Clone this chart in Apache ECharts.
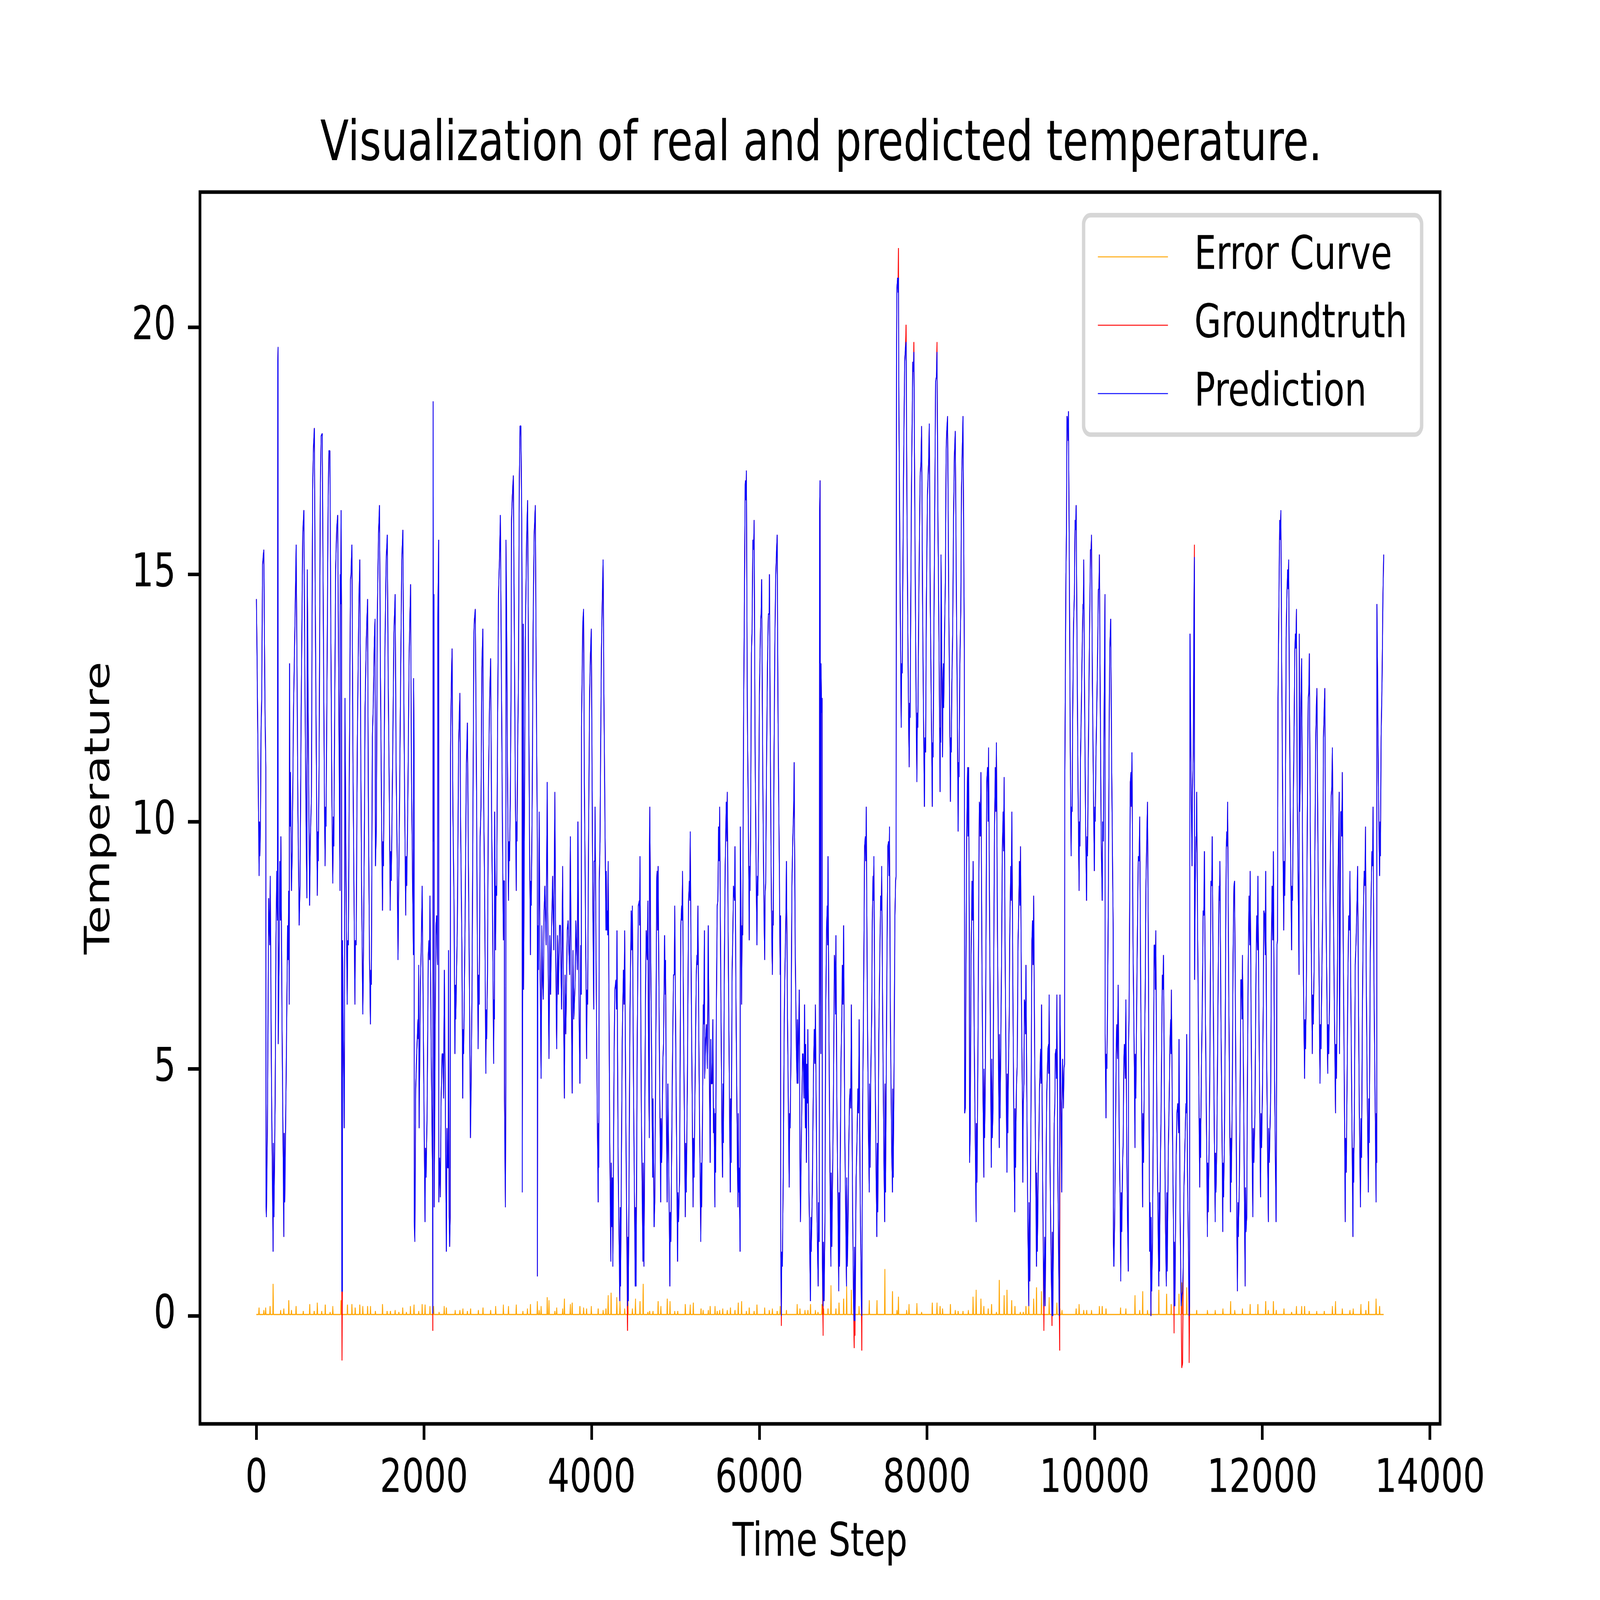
<!DOCTYPE html>
<html><head><meta charset="utf-8">
<script src="https://cdn.jsdelivr.net/npm/echarts@6/dist/echarts.min.js"></script>
<style>html,body{margin:0;padding:0;background:#fff;overflow:hidden;width:100vw;height:100vh;}#chart{width:6553px;height:4915px;transform-origin:0 0;}</style>
</head><body><div id="chart"></div>
<script>
const titleText = 'Visualization of real and predicted temperature.';
const xAxisName = 'Time Step';
const yAxisName = 'Temperature';
const seriesNames = ['Error Curve', 'Groundtruth', 'Prediction'];
const xTickValues = [0, 2000, 4000, 6000, 8000, 10000, 12000, 14000];
const yTickValues = [0, 5, 10, 15, 20];
const firstStep = 0;
const lastStep = 13449;

// Prediction curve: [time step, temperature]
const prediction = [
[1,14.5],[8,13.4],[33,8.9],[37,10.0],[42,9.3],[50,10.0],[55,11.7],[64,12.5],[74,15.2],[89,15.5],[103,12.3],[113,11.1],[116,2.2],[120,2.0],[132,3.8],[147,8.45],[159,7.5],[166,8.9],[181,4.6],[200,1.3],[203,3.5],[210,2.0],[224,4.3],[234,7.6],[244,9.0],[252,8.0],[256,19.3],[259,19.6],[261,5.5],[273,7.5],[280,9.2],[288,8.0],[293,9.7],[307,5.8],[328,1.6],[332,3.7],[339,2.3],[356,4.9],[373,7.9],[380,7.2],[386,8.6],[392,6.3],[396,13.2],[402,9.9],[407,11.0],[419,8.6],[428,9.4],[443,12.2],[467,14.7],[475,15.6],[487,12.6],[496,10.2],[511,7.9],[521,8.7],[535,12.3],[553,15.8],[567,16.3],[579,12.9],[593,10.0],[603,8.45],[608,15.1],[621,11.6],[635,8.3],[645,9.7],[657,10.5],[671,16.7],[681,17.55],[692,17.96],[702,14.7],[715,11.4],[727,8.5],[734,9.8],[739,9.2],[749,11.3],[763,16.7],[773,17.8],[786,17.85],[797,14.7],[812,10.5],[820,9.1],[825,10.3],[831,9.9],[841,12.3],[856,16.4],[865,17.5],[877,17.5],[890,13.5],[902,10.3],[912,8.75],[919,10.1],[924,9.5],[936,12.6],[946,15.1],[958,15.9],[970,16.2],[982,12.9],[998,8.6],[1001,15.0],[1006,14.4],[1011,16.3],[1016,14.4],[1019,0.5],[1026,0.5],[1028,7.6],[1037,5.8],[1048,3.8],[1052,5.5],[1057,12.5],[1069,9.1],[1084,6.3],[1089,7.6],[1098,7.5],[1108,10.7],[1123,14.9],[1129,15.0],[1140,15.6],[1152,11.4],[1164,8.7],[1176,6.3],[1181,7.6],[1191,7.5],[1205,11.7],[1223,14.4],[1234,15.3],[1244,12.0],[1254,9.0],[1270,6.1],[1278,7.3],[1291,10.3],[1297,12.3],[1312,13.7],[1327,14.5],[1336,10.5],[1350,7.2],[1361,5.9],[1366,7.0],[1372,6.7],
[1384,11.7],[1394,12.3],[1408,13.7],[1416,14.1],[1421,9.1],[1432,9.9],[1442,14.0],[1457,15.8],[1469,16.4],[1481,12.9],[1495,9.9],[1505,8.2],[1510,9.6],[1517,9.1],[1534,13.5],[1549,15.3],[1562,15.8],[1573,12.9],[1588,10.2],[1597,8.2],[1602,9.4],[1610,8.8],[1627,11.4],[1641,13.8],[1656,14.6],[1668,11.0],[1680,9.3],[1690,7.2],[1696,8.3],[1709,10.5],[1721,12.9],[1735,15.3],[1748,15.9],[1763,11.7],[1772,9.9],[1782,8.1],[1787,9.3],[1794,8.7],[1806,10.2],[1823,13.4],[1840,14.8],[1850,11.1],[1864,8.7],[1874,7.3],[1876,12.9],[1882,11.4],[1884,1.9],[1891,1.5],[1901,4.6],[1913,5.3],[1928,6.0],[1932,5.6],[1937,7.1],[1942,3.8],[1957,6.7],[1969,7.6],[1978,8.7],[1991,6.1],[2002,3.8],[2012,1.9],[2018,3.4],[2025,2.8],[2037,4.1],[2051,7.3],[2059,7.6],[2066,7.2],[2071,8.5],[2088,5.0],[2102,2.8],[2105,0.05],[2109,18.5],[2114,9.6],[2119,14.6],[2122,2.2],[2134,6.1],[2143,7.9],[2151,8.1],[2161,7.1],[2165,14.1],[2175,15.7],[2177,2.3],[2185,3.2],[2195,2.4],[2204,4.4],[2216,5.3],[2226,5.3],[2233,4.4],[2243,7.0],[2253,4.6],[2267,1.3],[2274,3.8],[2282,3.0],[2290,3.0],[2292,7.4],[2300,2.0],[2306,1.4],[2313,2.0],[2316,11.4],[2326,12.8],[2335,13.5],[2345,10.2],[2358,8.4],[2369,5.3],[2374,6.7],[2379,6.0],[2398,7.9],[2413,11.6],[2428,12.6],[2437,9.9],[2452,7.5],[2462,4.4],[2467,5.8],[2473,5.3],[2491,8.1],[2505,11.1],[2518,12.0],[2530,9.1],[2544,6.3],[2554,3.6],[2562,4.6],[2573,6.6],[2583,9.9],[2595,13.8],[2602,14.1],[2612,14.3],[2627,10.6],[2636,7.6],[2646,5.4],[2651,6.9],[2659,6.3],[2670,9.7],[2680,10.3],[2690,13.1],[2702,13.9],
[2709,11.0],[2724,8.4],[2738,4.9],[2743,6.2],[2748,5.6],[2758,7.0],[2768,10.6],[2782,12.4],[2795,13.3],[2806,10.2],[2818,8.1],[2831,5.1],[2835,6.4],[2841,6.0],[2843,10.2],[2855,7.4],[2858,8.7],[2867,8.5],[2879,12.2],[2889,14.6],[2902,15.4],[2911,16.2],[2923,13.1],[2937,9.6],[2947,7.6],[2952,8.8],[2959,8.8],[2960,4.4],[2971,2.2],[2976,4.7],[2978,15.7],[2986,14.1],[2996,11.1],[3008,8.4],[3015,9.6],[3020,9.2],[3030,10.5],[3039,12.8],[3044,16.1],[3054,16.6],[3066,17.0],[3078,13.8],[3090,10.5],[3101,8.6],[3104,10.0],[3110,9.6],[3117,11.4],[3127,12.9],[3137,16.9],[3146,18.0],[3156,18.0],[3166,16.1],[3170,14.4],[3172,2.5],[3185,14.0],[3188,6.6],[3195,9.1],[3209,13.7],[3224,15.7],[3236,16.5],[3248,12.9],[3258,9.9],[3270,7.3],[3274,8.8],[3280,8.3],[3292,10.7],[3302,14.0],[3314,15.8],[3328,16.4],[3340,12.6],[3352,9.6],[3353,0.8],[3358,7.9],[3365,7.0],[3374,10.2],[3384,7.2],[3397,4.8],[3406,7.9],[3413,6.9],[3423,6.4],[3433,8.2],[3442,8.7],[3457,7.5],[3470,10.8],[3476,8.2],[3491,5.2],[3501,7.7],[3510,6.5],[3522,7.8],[3535,8.9],[3549,7.4],[3561,10.6],[3572,7.2],[3583,5.4],[3593,7.7],[3603,6.5],[3617,7.9],[3627,7.9],[3641,6.2],[3654,9.1],[3661,7.0],[3675,4.4],[3683,6.9],[3692,5.7],[3709,7.8],[3719,8.0],[3737,6.9],[3746,9.7],[3758,6.4],[3768,4.5],[3777,7.4],[3787,6.0],[3802,6.7],[3811,8.0],[3829,7.0],[3836,10.0],[3850,6.2],[3860,4.7],[3870,7.5],[3876,6.5],[3879,11.9],[3894,14.0],[3904,14.3],[3913,10.8],[3928,7.8],[3940,5.2],[3945,6.6],[3952,6.3],[3964,9.9],[3976,12.6],[3986,13.4],[3996,13.9],
[4012,8.8],[4025,6.2],[4030,9.2],[4038,9.2],[4041,10.3],[4054,6.9],[4069,3.8],[4078,2.3],[4081,3.9],[4085,3.0],[4091,8.8],[4100,9.6],[4108,11.6],[4117,13.5],[4127,14.5],[4137,15.3],[4146,12.6],[4161,9.6],[4171,7.8],[4175,9.0],[4180,7.8],[4188,8.2],[4192,7.7],[4197,9.2],[4205,6.9],[4216,3.5],[4229,1.1],[4234,3.1],[4242,1.8],[4248,2.8],[4253,1.0],[4268,5.3],[4277,6.6],[4290,6.8],[4297,6.2],[4302,7.8],[4316,3.1],[4336,0.3],[4341,2.2],[4345,0.6],[4365,5.6],[4379,7.0],[4387,6.3],[4394,7.8],[4409,3.7],[4428,0.2],[4433,1.6],[4438,0.3],[4457,6.1],[4472,8.2],[4479,7.4],[4486,8.3],[4501,4.3],[4520,0.6],[4523,2.2],[4530,0.6],[4544,5.6],[4557,8.3],[4569,8.4],[4572,7.9],[4577,9.3],[4593,4.1],[4612,1.1],[4615,3.1],[4624,1.0],[4642,6.4],[4651,7.8],[4663,7.2],[4671,8.4],[4678,5.5],[4688,3.6],[4690,9.5],[4694,10.3],[4705,7.2],[4717,5.0],[4729,2.8],[4732,4.4],[4739,2.8],[4745,1.8],[4753,2.3],[4768,6.1],[4776,8.8],[4780,9.0],[4787,7.8],[4793,9.1],[4807,5.6],[4824,2.3],[4828,4.0],[4836,3.1],[4850,5.2],[4858,5.5],[4870,7.7],[4879,6.5],[4882,7.2],[4889,4.6],[4901,2.3],[4909,4.7],[4923,2.5],[4933,0.6],[4938,2.1],[4945,1.5],[4957,3.8],[4967,5.6],[4977,6.9],[4986,6.9],[4991,8.3],[5006,4.9],[5025,1.1],[5030,2.5],[5037,1.9],[5049,2.8],[5064,7.9],[5074,8.3],[5078,8.0],[5084,9.0],[5098,5.6],[5117,2.0],[5122,3.5],[5129,2.5],[5142,4.7],[5156,8.4],[5166,8.8],[5171,8.4],[5176,9.8],[5190,6.3],[5210,2.2],[5214,3.6],[5222,2.8],[5234,4.7],[5248,6.9],[5256,7.3],[5261,7.1],[5268,8.3],[5282,4.9],[5302,1.5],[5307,3.1],[5312,2.2],[5326,4.7],[5331,6.3],[5336,5.9],[5346,7.8],[5348,4.8],[5360,5.6],[5370,5.9],[5380,5.0],[5391,7.9],
[5401,5.6],[5414,3.1],[5421,5.6],[5428,4.7],[5438,4.7],[5446,6.0],[5454,3.7],[5460,4.2],[5470,2.2],[5474,4.1],[5479,2.9],[5488,6.2],[5498,8.3],[5506,8.4],[5514,9.9],[5520,9.2],[5527,10.3],[5540,6.9],[5554,3.7],[5562,2.8],[5566,4.7],[5572,3.5],[5583,7.0],[5593,9.1],[5606,10.4],[5613,9.6],[5618,10.6],[5632,6.9],[5647,3.8],[5654,2.5],[5658,4.4],[5664,3.1],[5676,7.0],[5685,7.8],[5692,8.7],[5705,8.4],[5710,9.5],[5724,5.9],[5739,3.1],[5746,2.2],[5749,4.1],[5755,2.5],[5760,3.0],[5771,1.3],[5773,9.9],[5783,8.1],[5789,6.3],[5795,7.9],[5802,7.7],[5812,11.9],[5824,14.9],[5831,16.8],[5836,16.9],[5841,16.5],[5846,17.1],[5857,12.3],[5870,9.9],[5880,7.6],[5884,9.1],[5889,8.6],[5896,9.6],[5906,13.4],[5914,13.9],[5923,15.7],[5933,15.5],[5938,16.1],[5950,11.4],[5962,9.1],[5972,7.5],[5977,8.9],[5982,8.5],[5991,9.7],[6001,12.5],[6016,14.1],[6022,14.2],[6028,14.9],[6042,10.8],[6054,8.5],[6064,7.2],[6069,8.5],[6077,8.8],[6086,11.1],[6098,13.2],[6108,14.2],[6118,14.2],[6121,15.0],[6132,11.4],[6145,8.2],[6156,6.9],[6161,8.2],[6166,7.9],[6176,11.4],[6185,13.5],[6195,14.9],[6202,15.3],[6213,15.8],[6224,12.0],[6239,9.1],[6249,6.9],[6253,8.1],[6256,1.2],[6263,0.0],[6268,1.3],[6275,1.0],[6287,3.1],[6297,5.9],[6307,7.1],[6317,8.1],[6321,8.1],[6324,9.2],[6336,6.1],[6349,3.8],[6357,2.6],[6362,4.1],[6368,3.8],[6378,5.3],[6389,8.7],[6399,9.6],[6409,10.2],[6416,11.2],[6428,7.5],[6443,5.3],[6451,4.7],[6455,6.0],[6462,4.7],[6470,5.8],[6477,6.6],[6485,3.2],[6491,1.9],[6501,3.5],[6516,5.3],[6523,5.3],[6533,4.4],[6540,6.3],[6550,3.8],[6553,5.5],[6562,3.1],[6566,5.1],[6574,4.3],[6579,5.8],[6593,2.5],[6610,0.3],[6615,2.0],[6620,1.3],[6632,2.5],[6647,5.0],[6656,5.8],[6663,5.1],[6669,6.3],[6681,3.8],[6690,1.9],[6702,0.6],[6707,2.3],[6715,1.5],[6720,16.3],[6725,16.9],[6729,6.9],[6734,5.3],[6736,13.2],[6744,12.2],[6749,12.5],[6752,1.1],[6761,0.2],[6765,1.5],[6773,0.3],[6783,1.9],
[6792,6.1],[6802,7.8],[6810,8.3],[6815,7.5],[6820,9.3],[6831,5.7],[6846,2.3],[6854,1.0],[6858,2.9],[6865,1.4],[6878,3.4],[6885,4.6],[6896,7.3],[6904,7.0],[6909,6.1],[6914,7.7],[6925,4.4],[6938,2.3],[6948,0.5],[6951,2.5],[6957,1.0],[6967,3.4],[6975,5.2],[6984,6.0],[6991,7.1],[6998,6.3],[7006,7.9],[7019,3.8],[7032,1.9],[7040,0.6],[7043,2.8],[7050,1.0],[7059,1.9],[7067,3.4],[7077,4.4],[7084,4.6],[7091,4.2],[7098,6.3],[7113,2.2],[7125,0.2],[7132,-0.1],[7135,1.4],[7142,-0.1],[7155,2.8],[7166,3.6],[7176,4.6],[7184,4.1],[7191,6.0],[7203,2.5],[7218,0.2],[7223,0.0],[7226,1.4],[7232,4.1],[7239,5.4],[7246,6.9],[7256,9.5],[7265,9.7],[7271,9.2],[7276,10.3],[7288,6.6],[7302,3.7],[7312,2.5],[7315,4.7],[7322,3.0],[7331,5.0],[7341,6.1],[7348,8.0],[7357,8.9],[7362,8.4],[7367,9.3],[7380,5.3],[7394,2.9],[7402,1.6],[7407,3.5],[7414,2.1],[7426,5.7],[7438,7.3],[7448,8.5],[7456,8.2],[7460,9.1],[7472,6.0],[7487,3.1],[7496,1.9],[7499,4.7],[7506,2.5],[7521,6.7],[7533,9.5],[7542,9.6],[7548,8.9],[7553,9.9],[7564,6.0],[7579,3.4],[7589,2.5],[7591,4.6],[7598,2.8],[7608,5.2],[7618,8.1],[7626,8.8],[7632,8.9],[7637,19.6],[7642,20.8],[7650,21.0],[7655,20.7],[7660,21.0],[7666,18.2],[7681,14.4],[7693,11.9],[7698,13.2],[7705,13.0],[7720,16.9],[7734,19.3],[7744,19.6],[7751,19.7],[7763,15.9],[7778,12.6],[7788,11.1],[7793,12.4],[7799,12.1],[7815,16.7],[7831,19.3],[7838,19.1],[7844,19.5],[7858,15.5],[7870,12.6],[7880,10.8],[7885,12.2],[7891,11.9],[7904,14.7],[7919,17.0],[7929,17.3],[7936,18.0],[7948,14.4],[7958,12.3],[7970,10.3],[7975,11.7],[7984,11.4],[7993,14.4],[8006,16.6],[8021,17.35],[8028,18.05],[8040,14.4],[8052,12.3],[8064,10.3],[8067,11.6],[8074,11.3],[8084,14.1],[8094,16.6],[8103,18.9],[8113,19.0],[8120,19.5],[8132,15.9],[8142,14.0],[8157,10.6],[8159,11.9],[8164,11.6],[8168,15.4],[8176,13.5],[8186,11.3],[8191,12.8],[8197,13.2],[8200,12.3],[8210,13.8],[8220,14.9],[8229,17.5],[8236,17.9],[8246,18.2],[8259,14.7],[8268,12.9],[8280,10.4],[8285,11.7],[8291,11.4],[8297,12.8],[8307,13.8],[8317,16.1],[8327,17.4],[8338,17.9],[8351,14.6],[8361,12.6],[8372,9.8],[8377,11.2],[8383,10.9],[8392,13.1],[8404,14.3],[8412,16.7],[8421,17.5],[8430,18.2],[8446,13.5],[8450,4.1],[8458,4.2],[8465,6.9],[8474,9.7],[8485,11.1],[8490,9.7],[8497,11.1],[8506,7.6],[8508,3.1],[8516,3.7],[8526,7.2],[8538,8.8],[8545,8.0],[8551,9.2],[8564,5.6],[8579,3.1],[8587,1.9],[8590,3.9],[8597,2.7],[8608,5.3],[8618,8.4],[8625,10.4],[8632,10.3],[8637,9.7],[8644,11.0],[8657,6.9],[8669,4.4],[8679,2.8],[8681,5.0],[8688,3.6],[8696,4.7],[8706,8.1],[8713,10.8],[8723,11.1],[8730,10.0],[8735,11.5],[8749,7.6],[8761,4.7],[8768,3.0],[8773,5.2],[8780,3.6],[8788,4.2],[8797,7.2],[8805,9.7],[8815,11.1],[8822,10.2],[8829,11.6],[8841,7.8],[8854,5.0],[8863,3.4],[8865,5.7],[8872,4.0],[8880,5.3],[8890,7.2],[8899,9.4],[8909,10.2],[8914,9.4],[8921,10.9],[8933,7.2],[8945,4.7],[8955,2.9],[8958,4.9],[8965,3.7],[8972,5.0],[8982,6.1],[8987,7.6],[9000,9.1],[9006,8.4],[9013,10.2],[9026,6.4],[9038,3.5],[9048,2.1],[9050,4.2],[9057,3.0],[9067,4.6],[9077,5.1],[9087,7.6],[9094,8.1],[9103,9.2],[9111,8.3],[9116,9.5],[9128,6.3],[9139,4.3],[9144,2.7],[9149,4.3],[9157,4.7],[9162,6.4],[9171,6.3],[9176,5.7],[9181,7.1],[9191,4.6],[9203,1.9],[9215,0.2],[9218,2.3],[9227,0.7],[9234,2.3],[9244,4.9],[9252,7.6],[9260,8.0],[9266,7.1],[9273,8.5],[9285,5.3],[9298,2.8],[9307,1.0],[9310,2.9],[9317,1.3],[9330,3.2],[9336,3.7],[9343,4.6],[9356,5.4],[9361,4.7],[9367,6.3],[9380,2.8],[9395,0.2],[9404,1.6],[9411,0.2],[9424,3.6],[9429,4.5],[9436,4.9],[9443,5.4],[9451,5.5],[9453,4.9],[9458,6.5],[9468,3.1],[9482,1.0],[9492,0.0],[9495,1.7],[9502,0.0],[9508,1.5],[9518,3.9],[9526,4.3],[9531,5.3],[9540,5.4],[9545,4.8],[9550,6.5],[9560,3.2],[9572,1.0],[9579,0.0],[9584,0.0],[9587,6.5],[9599,4.1],[9608,2.5],[9611,4.3],[9618,5.2],[9628,4.2],[9635,5.0],[9642,5.1],[9644,10.6],[9652,13.2],[9658,15.0],[9664,15.8],[9671,18.2],[9679,18.1],[9684,17.7],[9688,18.3],[9699,15.0],[9710,11.4],[9720,9.3],[9725,10.3],[9732,10.2],[9739,12.2],[9749,14.0],[9759,14.6],[9767,16.1],[9773,15.9],[9780,16.4],[9793,12.9],[9803,10.6],[9815,8.6],[9819,10.0],[9825,9.5],[9832,11.3],[9841,12.2],[9851,13.4],[9861,14.4],[9866,14.3],[9870,15.3],[9880,12.6],[9893,9.9],[9904,8.4],[9909,9.7],[9916,9.3],[9924,11.1],[9934,12.9],[9943,14.3],[9951,15.5],[9958,15.5],[9963,15.8],[9974,12.8],[9987,10.5],[9997,9.0],[10002,10.3],[10008,10.0],[10016,11.3],[10026,12.3],[10036,13.4],[10045,14.7],[10052,14.7],[10057,15.4],[10068,12.3],[10079,9.6],[10091,8.4],[10096,10.0],[10104,9.6],[10110,11.3],[10118,13.2],[10124,14.6],[10126,5.7],[10136,4.0],[10139,5.3],[10147,5.0],[10155,6.4],[10165,8.7],[10174,12.0],[10181,13.5],[10186,13.5],[10192,14.1],[10204,11.1],[10215,9.0],[10222,7.8],[10224,1.5],[10230,1.0],[10239,1.9],[10249,3.5],[10257,5.3],[10264,5.9],[10273,5.2],[10281,6.7],[10293,3.8],[10305,2.2],[10312,0.7],[10317,2.5],[10324,1.7],[10334,3.1],[10341,3.5],[10349,5.2],[10356,5.5],[10366,4.8],[10373,6.4],[10385,3.1],[10395,1.7],[10402,0.9],[10405,5.5],[10411,6.1],[10417,7.9],[10426,10.8],[10434,11.0],[10438,10.3],[10446,11.4],[10458,7.6],[10473,5.2],[10482,3.4],[10485,5.3],[10492,4.4],[10502,6.3],[10511,7.8],[10521,9.3],[10531,9.2],[10538,10.1],[10550,6.6],[10563,4.1],[10573,2.2],[10576,4.1],[10584,3.1],[10594,5.1],[10604,6.6],[10613,8.8],[10623,9.7],[10631,10.4],[10642,7.2],[10657,1.3],[10662,2.3],[10672,0.0],[10674,2.0],[10681,0.5],[10691,1.5],
[10701,4.5],[10710,7.5],[10718,7.5],[10724,6.6],[10730,7.8],[10744,3.8],[10759,1.6],[10766,0.6],[10769,2.5],[10774,0.9],[10783,2.8],[10793,4.1],[10798,5.0],[10808,6.9],[10815,6.6],[10822,7.3],[10832,4.6],[10846,1.7],[10856,0.6],[10861,2.5],[10866,0.9],[10880,3.4],[10890,4.4],[10900,5.6],[10908,6.0],[10912,5.3],[10916,6.6],[10929,3.8],[10942,1.6],[10948,0.2],[10951,1.5],[10958,0.2],[10973,3.2],[10982,4.1],[10992,4.3],[11002,3.7],[11007,5.6],[11021,1.9],[11033,0.2],[11040,0.4],[11050,0.5],[11058,1.1],[11065,2.5],[11077,3.4],[11089,4.3],[11094,4.1],[11099,5.7],[11108,2.9],[11123,0.8],[11128,0.0],[11133,0.2],[11138,13.8],[11147,11.7],[11155,10.2],[11162,9.1],[11167,10.5],[11177,11.4],[11181,12.9],[11188,15.0],[11191,15.35],[11193,6.8],[11201,8.8],[11210,9.7],[11215,9.6],[11218,10.6],[11230,7.6],[11244,4.6],[11254,2.6],[11257,4.0],[11264,3.2],[11274,5.0],[11285,6.3],[11295,8.2],[11303,8.1],[11310,9.4],[11322,6.1],[11337,3.4],[11346,1.6],[11349,3.1],[11356,2.1],[11366,3.4],[11376,5.3],[11388,8.8],[11398,8.7],[11403,9.7],[11414,6.9],[11429,3.5],[11439,1.9],[11442,3.3],[11448,2.5],[11458,3.4],[11468,5.5],[11476,7.2],[11485,8.7],[11490,8.4],[11495,9.2],[11507,6.1],[11521,3.5],[11529,1.7],[11533,3.1],[11539,2.4],[11550,3.8],[11558,5.7],[11570,9.4],[11577,9.8],[11582,9.5],[11587,10.4],[11599,6.9],[11613,3.8],[11621,2.1],[11625,3.6],[11631,2.7],[11643,4.6],[11652,7.3],[11662,8.7],[11670,8.8],[11677,6.9],[11686,4.6],[11696,2.0],[11704,0.5],[11709,2.3],[11715,1.6],[11728,2.8],[11738,5.0],[11745,6.8],[11752,6.8],[11759,6.0],[11764,7.3],[11777,4.7],[11788,2.2],[11796,0.6],[11800,2.6],[11806,1.7],[11815,2.0],[11822,4.4],[11832,7.0],[11842,8.5],[11851,7.5],[11856,9.0],[11869,5.6],[11880,3.2],[11888,2.0],[11893,3.8],[11900,3.1],[11913,4.1],[11924,6.7],[11934,8.1],[11944,7.4],[11948,8.9],[11961,6.0],[11973,3.5],[11980,2.4],[11985,4.1],[11992,3.4],[12002,4.5],[12012,6.3],[12019,8.2],[12029,8.1],[12036,7.3],[12041,9.0],[12053,5.2],[12065,3.1],[12073,1.9],[12077,3.8],[12084,3.1],[12094,3.9],[12101,4.5],[12109,7.6],[12118,8.7],[12126,7.6],[12133,9.4],[12146,5.0],[12157,3.1],[12165,1.9],[12170,3.7],[12175,7.5],[12182,7.6],[12188,12.5],[12198,14.3],[12208,16.1],[12215,15.7],[12222,16.3],[12233,12.9],[12245,10.2],[12256,7.8],[12261,9.2],[12269,8.5],[12276,10.2],[12285,13.7],[12293,14.5],[12303,15.1],[12310,14.7],[12315,15.3],[12325,12.2],[12337,9.6],[12350,7.4],[12354,8.7],[12361,8.4],[12371,10.5],[12381,12.0],[12388,13.4],[12395,13.8],[12402,13.5],[12408,14.3],[12417,10.6],[12429,8.7],[12439,6.9],[12442,13.8],[12447,10.2],[12453,10.8],[12460,12.3],[12470,13.3],[12480,9.6],[12492,6.7],[12505,4.8],[12509,6.0],[12517,5.4],[12528,7.0],[12536,9.6],[12548,12.5],[12555,12.6],[12562,13.4],[12573,9.9],[12584,7.6],[12597,5.3],[12602,6.5],[12609,5.9],[12618,7.0],[12625,8.7],[12638,11.7],[12645,12.3],[12652,12.7],[12664,9.6],[12677,7.0],[12689,4.7],[12694,5.9],[12701,5.4],[12711,6.9],[12720,8.1],[12730,11.7],[12738,12.2],[12746,12.7],[12757,8.7],[12769,6.9],[12781,4.9],[12786,5.9],[12793,5.3],[12803,6.4],[12811,9.0],[12822,10.5],[12830,10.7],[12837,11.5],[12847,8.7],[12858,6.6],[12874,4.1],[12878,5.5],[12885,4.8],[12895,6.6],[12903,8.8],[12910,9.6],[12918,10.6],[12921,5.3],[12929,7.5],[12936,10.2],[12944,10.2],[12949,9.7],[12955,11.0],[12965,7.8],[12978,4.9],[12990,1.9],[12994,3.6],[13002,2.9],[13012,4.7],[13021,6.7],[13031,8.1],[13041,7.8],[13046,9.0],[13055,6.9],[13068,4.3],[13082,1.6],[13085,3.4],[13091,2.7],[13101,4.6],[13109,7.1],[13118,7.5],[13128,8.2],[13138,9.1],[13148,6.4],[13157,4.3],[13172,2.2],[13177,4.0],[13185,3.2],[13194,6.0],[13204,7.9],[13216,9.0],[13225,8.7],[13232,9.9],[13240,7.0],[13253,4.4],[13266,2.5],[13270,4.4],[13277,3.5],[13288,7.2],[13298,8.4],[13308,9.4],[13315,9.1],[13322,10.3],[13332,6.9],[13345,4.6],[13358,2.3],[13361,4.1],[13366,3.1],[13368,14.4],[13376,12.9],[13386,10.8],[13395,9.4],[13400,8.9],[13405,10.0],[13410,9.3],[13418,11.7],[13429,12.8],[13440,14.6],[13449,15.4]
];

// Groundtruth values where they visibly differ from the prediction: [time step, temperature]
const groundtruthOverrides = [
[1022,-0.9],[2105,-0.3],[4428,-0.3],[6263,-0.2],[6761,-0.4],[7132,-0.65],[7142,-0.4],[7223,-0.7],[7660,21.6],[7751,20.05],[7844,19.7],[8120,19.7],[9395,-0.3],[9492,-0.2],[9584,-0.7],[10948,-0.35],[11040,-1.05],[11050,-0.95],[11128,-0.95],[11191,15.6]
];

// Error curve spikes: [time step, absolute error]
const errorBaseline = 0.03;
const errorSpikes = [
[32,0.17],[89,0.12],[111,0.17],[164,0.2],[200,0.65],[290,0.12],[328,0.15],[387,0.32],[419,0.12],[474,0.2],[560,0.1],[637,0.24],[690,0.1],[727,0.27],[780,0.1],[822,0.23],[880,0.08],[912,0.2],[1009,0.32],[1087,0.23],[1140,0.24],[1179,0.17],[1234,0.23],[1270,0.2],[1327,0.2],[1362,0.2],[1420,0.1],[1505,0.24],[1560,0.1],[1600,0.1],[1656,0.12],[1700,0.08],[1746,0.17],[1790,0.08],[1838,0.2],[1881,0.23],[1937,0.1],[1978,0.24],[2013,0.23],[2071,0.2],[2115,0.2],[2180,0.08],[2241,0.2],[2267,0.17],[2372,0.12],[2428,0.12],[2464,0.15],[2518,0.1],[2556,0.15],[2649,0.12],[2704,0.17],[2795,0.12],[2855,0.2],[2947,0.23],[3008,0.2],[3101,0.23],[3180,0.1],[3234,0.15],[3270,0.24],[3352,0.3],[3374,0.12],[3397,0.2],[3470,0.38],[3491,0.32],[3561,0.1],[3583,0.17],[3654,0.15],[3675,0.35],[3746,0.24],[3768,0.27],[3860,0.2],[3904,0.17],[3940,0.15],[3996,0.2],[4078,0.15],[4137,0.12],[4171,0.15],[4197,0.42],[4232,0.47],[4300,0.38],[4338,0.3],[4394,0.15],[4433,0.32],[4486,0.15],[4523,0.35],[4577,0.3],[4615,0.65],[4671,0.08],[4692,0.1],[4732,0.1],[4793,0.3],[4826,0.2],[4902,0.35],[4935,0.3],[4991,0.1],[5027,0.1],[5117,0.24],[5176,0.23],[5213,0.27],[5305,0.15],[5330,0.12],[5392,0.12],[5414,0.2],[5472,0.2],[5498,0.1],[5527,0.12],[5564,0.15],[5618,0.12],[5656,0.17],[5710,0.12],[5749,0.27],[5789,0.3],[5846,0.1],[5880,0.17],[5938,0.1],[5972,0.23],[6064,0.17],[6119,0.12],[6156,0.15],[6213,0.1],[6249,0.2],[6324,0.12],[6452,0.24],[6485,0.15],[6545,0.12],[6580,0.12],[6611,0.24],[6669,0.12],[6700,0.08],[6747,0.24],[6768,0.15],[6820,0.15],[6855,0.62],[6914,0.15],[6951,0.27],[7006,0.35],[7042,0.6],[7098,0.53],[7190,0.2],[7312,0.32],[7404,0.32],[7498,0.95],[7589,0.5],[7642,0.12],[7660,0.39],[7758,0.12],[7786,0.24],[7880,0.26],[7936,0.08],[8064,0.27],[8120,0.27],[8157,0.2],[8186,0.15],[8280,0.24],[8338,0.12],[8372,0.1],[8430,0.1],[8494,0.12],[8550,0.39],[8587,0.53],[8644,0.35],[8679,0.2],[8731,0.15],[8771,0.24],[8829,0.08],[8863,0.73],[8921,0.42],[8955,0.53],[9011,0.32],[9050,0.2],[9114,0.08],[9149,0.08],[9181,0.2],[9215,0.2],[9273,0.35],[9307,0.58],[9366,0.5],[9458,0.38],[9495,0.1],[9550,0.27],[9586,0.15],[9611,0.12],[9780,0.15],[9815,0.24],[9870,0.12],[9906,0.12],[9963,0.12],[10057,0.2],[10091,0.2],[10136,0.15],[10310,0.17],[10373,0.15],[10482,0.42],[10538,0.12],[10574,0.5],[10631,0.12],[10672,0.12],[10766,0.53],[10859,0.45],[10914,0.24],[11007,0.45],[11040,0.68],[11052,0.62],[11099,0.58],[11130,0.5],[11218,0.12],[11346,0.12],[11439,0.12],[11531,0.15],[11623,0.3],[11672,0.12],[11764,0.15],[11856,0.24],[11948,0.24],[12041,0.3],[12072,0.12],[12133,0.3],[12167,0.12],[12259,0.15],[12350,0.08],[12408,0.2],[12470,0.2],[12505,0.2],[12560,0.1],[12650,0.1],[12740,0.1],[12837,0.2],[12874,0.3],[12955,0.15],[13046,0.12],[13085,0.15],[13177,0.24],[13236,0.12],[13269,0.3],[13358,0.35],[13400,0.2]
];

// ---- build series data ----
const overrideMap = new Map(groundtruthOverrides.map(p => [p[0], p[1]]));
const predSteps = new Set(prediction.map(p => p[0]));
const groundtruth = prediction.map(p => [p[0], overrideMap.has(p[0]) ? overrideMap.get(p[0]) : p[1]]);
groundtruthOverrides.forEach(p => { if (!predSteps.has(p[0])) groundtruth.push([p[0], p[1]]); });
groundtruth.sort((a, b) => a[0] - b[0]);

const errorCurve = [[firstStep, errorBaseline]];
errorSpikes.forEach(p => { errorCurve.push([p[0] - 4, errorBaseline], [p[0], p[1]], [p[0] + 4, errorBaseline]); });
errorCurve.push([lastStep, errorBaseline]);

// matplotlib-style 5% autoscale margins
const allVals = prediction.concat(groundtruth, errorCurve).map(p => p[1]);
const dMin = Math.min.apply(null, allVals), dMax = Math.max.apply(null, allVals);
const yMin = dMin - 0.05 * (dMax - dMin), yMax = dMax + 0.05 * (dMax - dMin);
const xMin = firstStep - 0.05 * (lastStep - firstStep), xMax = lastStep + 0.05 * (lastStep - firstStep);

// The chart is laid out for a 6553 x 4915 window; if the real viewport differs, fit the whole figure into it.
const el = document.getElementById('chart');
const sx = window.innerWidth / 6553, sy = window.innerHeight / 4915;
if (Math.abs(sx - 1) > 1e-3 || Math.abs(sy - 1) > 1e-3) el.style.transform = 'scale(' + sx + ',' + sy + ')';

const FONT = 'DejaVu Sans';
const chart = echarts.init(el, null, {renderer: 'canvas', width: 6553, height: 4915, devicePixelRatio: 1});
chart.setOption({
  animation: false,
  backgroundColor: '#ffffff',
  title: {
    text: titleText, left: 3358, top: 357, textAlign: 'center',
    textStyle: {fontFamily: FONT, fontSize: 171, fontWeight: 'normal', color: '#000'}
  },
  legend: {
    data: seriesNames, orient: 'vertical', left: 4438, top: 661,
    padding: [53, 59, 51, 57], itemWidth: 287, itemHeight: 6, itemGap: 60,
    backgroundColor: 'rgba(255,255,255,0.8)', borderColor: '#d6d6d6', borderWidth: 14, borderRadius: 28,
    itemStyle: {opacity: 0},
    lineStyle: {width: 3},
    textStyle: {fontFamily: FONT, fontSize: 142, color: '#000', lineHeight: 150, padding: [0, 0, 0, 103]}
  },
  grid: {left: 819, right: 655, top: 590, bottom: 541, show: true,
         borderColor: '#000', borderWidth: 11, backgroundColor: 'transparent'},
  xAxis: {
    type: 'value', min: xMin, max: xMax,
    name: xAxisName, nameLocation: 'middle', nameGap: 297,
    nameTextStyle: {fontFamily: FONT, fontSize: 142, color: '#000'},
    axisLine: {show: false, onZero: false},
    splitLine: {show: false},
    axisTick: {show: true, length: 49, customValues: xTickValues, lineStyle: {color: '#000', width: 11}},
    axisLabel: {customValues: xTickValues, formatter: v => String(v), margin: 101, fontFamily: FONT, fontSize: 142, color: '#000'}
  },
  yAxis: {
    type: 'value', min: yMin, max: yMax,
    name: yAxisName, nameLocation: 'middle', nameGap: 338,
    nameTextStyle: {fontFamily: FONT, fontSize: 142, color: '#000'},
    axisLine: {show: false, onZero: false},
    splitLine: {show: false},
    axisTick: {show: true, length: 49, customValues: yTickValues, lineStyle: {color: '#000', width: 11}},
    axisLabel: {customValues: yTickValues, formatter: v => String(v), margin: 99, fontFamily: FONT, fontSize: 142, color: '#000'}
  },
  series: [
    {name: seriesNames[0], type: 'line', data: errorCurve, symbol: 'none', showSymbol: false,
     lineStyle: {color: '#FFA500', width: 3.5}, itemStyle: {color: '#FFA500'}, z: 2},
    {name: seriesNames[1], type: 'line', data: groundtruth, symbol: 'none', showSymbol: false,
     lineStyle: {color: '#FF0000', width: 3.5}, itemStyle: {color: '#FF0000'}, z: 3},
    {name: seriesNames[2], type: 'line', data: prediction, symbol: 'none', showSymbol: false,
     lineStyle: {color: '#0000FF', width: 3.5}, itemStyle: {color: '#0000FF'}, z: 4}
  ]
});
</script>
</body></html>
